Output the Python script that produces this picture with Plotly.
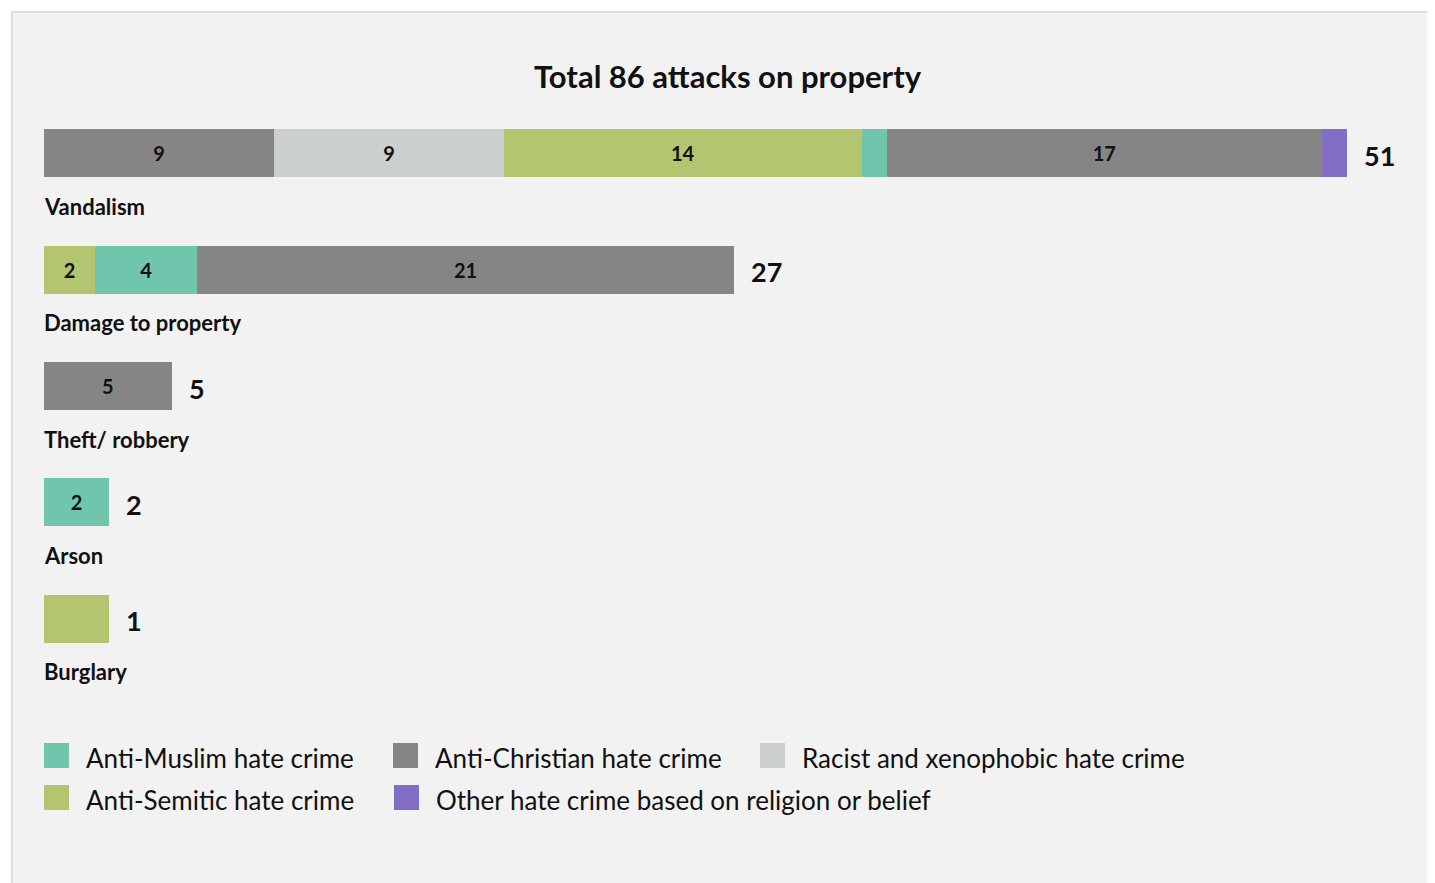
import plotly.graph_objects as go

# ---------------- data ----------------
categories = ["Vandalism", "Damage to property", "Theft/ robbery", "Arson", "Burglary"]

# stacked segments per row (order as drawn, left to right)
seg_types = [
    ["Anti-Muslim", "Anti-Christian", "Racist", "Anti-Semitic", "Anti-Muslim", "Anti-Christian", "Other"],
    ["Anti-Semitic", "Anti-Muslim", "Anti-Christian"],
    ["Anti-Christian"],
    ["Anti-Muslim"],
    ["Anti-Semitic"],
]
seg_values = [
    [0, 9, 9, 14, 1, 17, 1],
    [2, 4, 21],
    [5],
    [2],
    [1],
]

legend_keys = ["Anti-Muslim", "Anti-Christian", "Racist", "Anti-Semitic", "Other"]
legend_labels = [
    "Anti-Muslim hate crime",
    "Anti-Christian hate crime",
    "Racist and xenophobic hate crime",
    "Anti-Semitic hate crime",
    "Other hate crime based on religion or belief",
]
title_text = "Total 86 attacks on property"

# ---------------- style ----------------
COLORS = {
    "Anti-Muslim": "#6fc6ac",
    "Anti-Christian": "#858585",
    "Racist": "#cbcfcd",
    "Anti-Semitic": "#b3c571",
    "Other": "#816ec4",
}
FONT = "Lato"
TXT = "#111111"
MIN_BAR_UNITS = 2.55     # short bars are drawn with a minimum width
BAR_W = 0.412

OFF = 8                  # page body margin: figure starts 8px in
W, H = 1435 - OFF, 883 - OFF
L, R, T = 44 - OFF, 35, 95 - OFF
B = H - (677 - OFF)      # plot bottom sits at page y=677
PW, PH = W - L - R, H - T - B
X_MAX = PW / 25.55


def px_x(px):
    # page pixel -> paper fraction
    return (px - OFF - L) / PW


def px_y(py):
    return (T + PH - (py - OFF)) / PH


fig = go.Figure()

for i, (types, vals) in enumerate(zip(seg_types, seg_values)):
    total = sum(vals)
    scale = max(total, MIN_BAR_UNITS) / total
    for t, v in zip(types, vals):
        fig.add_trace(go.Bar(
            y=[i], x=[v * scale], orientation='h', width=BAR_W,
            marker=dict(color=COLORS[t], line=dict(width=0)),
            text=[str(v) if v >= 2 else ""],
            textposition='inside', insidetextanchor='middle',
            constraintext='none',
            textfont=dict(family=FONT, size=20, color=TXT, weight='bold'),
            hovertemplate=f"{categories[i]}<br>{t}: {v}<extra></extra>",
            showlegend=False,
        ))
    # total at bar end
    fig.add_annotation(
        x=total * scale, y=i, xref='x', yref='y', text=str(total),
        xanchor='left', yanchor='middle', xshift=15, yshift=-2, showarrow=False,
        font=dict(family=FONT, size=27, color=TXT, weight='bold'),
    )
    # category label under bar
    fig.add_annotation(
        x=0, y=i, xref='x', yref='y', text=categories[i],
        xanchor='left', yanchor='middle', xshift=-2, yshift=-53, showarrow=False,
        font=dict(family=FONT, size=22, color=TXT, weight='bold'),
    )

# title
fig.add_annotation(
    x=px_x(727.5), y=px_y(76), xref='paper', yref='paper', text=title_text,
    xanchor='center', yanchor='middle', showarrow=False,
    font=dict(family=FONT, size=31, color=TXT, weight='bold'),
)

# background frame
shapes = [dict(
    type='rect', xref='paper', yref='paper', layer='below',
    x0=px_x(12), x1=px_x(1460), y0=px_y(12), y1=px_y(910),
    fillcolor='#f2f2f2', line=dict(color='#dedede', width=2),
)]

# manual legend (flow layout, two rows)
legend_pos = [(44, 755.5), (393, 755.5), (760, 755.5), (44, 797.5), (394, 797.5)]
for key, label, (lx, ly) in zip(legend_keys, legend_labels, legend_pos):
    shapes.append(dict(
        type='rect', xref='paper', yref='paper', layer='above',
        x0=px_x(lx), x1=px_x(lx + 25), y0=px_y(ly - 12.5), y1=px_y(ly + 12.5),
        fillcolor=COLORS[key], line=dict(width=0),
    ))
    fig.add_annotation(
        x=px_x(lx + 40), y=px_y(ly + 2), xref='paper', yref='paper', text=label,
        xanchor='left', yanchor='middle', showarrow=False,
        font=dict(family=FONT, size=26, color=TXT),
    )

fig.update_layout(
    barmode='stack',
    width=W, height=H,
    margin=dict(l=L, r=R, t=T, b=B, pad=0),
    paper_bgcolor='white', plot_bgcolor='rgba(0,0,0,0)',
    shapes=shapes,
    xaxis=dict(range=[0, X_MAX], visible=False, fixedrange=True),
    yaxis=dict(range=[4.5, -0.5], visible=False, fixedrange=True),
    showlegend=False,
    font=dict(family=FONT),
)

fig.write_html("out.html")
